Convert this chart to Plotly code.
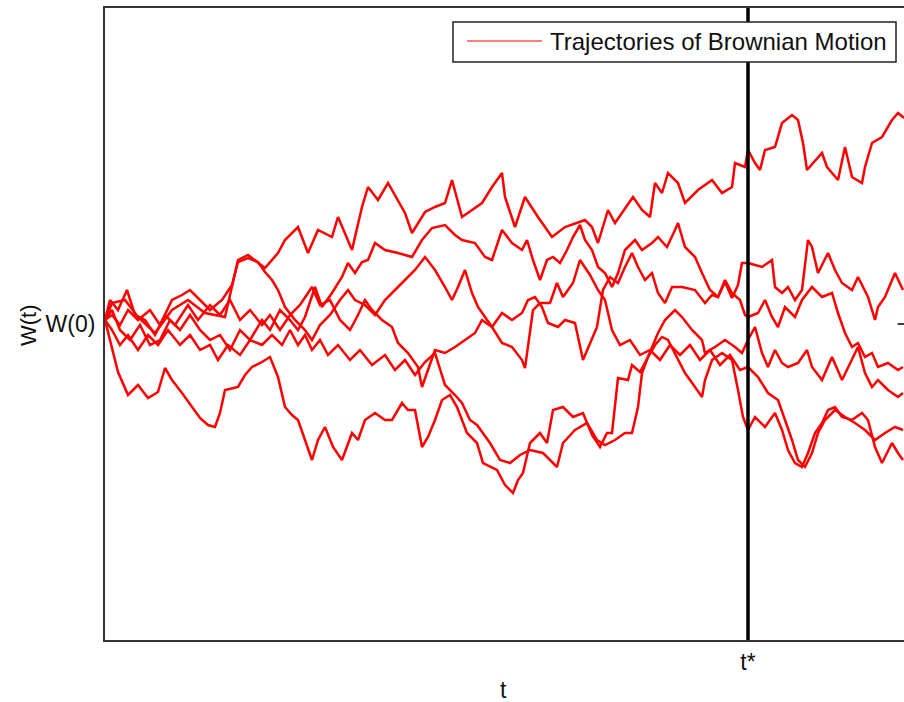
import plotly.graph_objects as go

# Sample paths of a Brownian motion W(t), all started from W(0).
# t runs from 0 to T_END (arbitrary units); W is measured relative to W(0).
T_STAR = 643
T_END = 799
W_LIM = 316

t_1 = [0, 7, 20, 33, 50, 67, 83, 100, 120, 127, 133, 143, 160, 173, 180, 193, 203, 213, 227, 233,
       247, 257, 263, 273, 283, 300, 307, 320, 330, 340, 347, 357, 363, 377, 387, 397, 400, 410, 420, 433,
       447, 460, 480, 487, 493, 503, 510, 517, 528, 537, 545, 550, 557, 563, 573, 580, 593, 607, 617, 627,
       630, 640, 643, 650, 655, 660, 670, 677, 687, 693, 698, 702, 717, 722, 733, 740, 747, 757, 760, 767,
       777, 787, 793, 799]
w_1 = [4, 21, 24, 7, -9, 14, 24, 11, 7, 37, 64, 69, 56, 71, 84, 97, 71, 94, 87, 107,
       74, 117, 137, 124, 141, 111, 91, 112, 117, 121, 144, 107, 111, 121, 137, 151, 127, 97, 127, 107,
       87, 97, 104, 97, 81, 114, 101, 111, 127, 114, 107, 141, 131, 151, 141, 121, 134, 144, 131, 137,
       161, 157, 174, 161, 154, 174, 177, 201, 209, 204, 181, 154, 171, 157, 144, 177, 147, 141, 157, 181,
       187, 204, 211, 206]

t_2 = [0, 7, 15, 25, 35, 45, 55, 65, 75, 85, 95, 105, 115, 125, 135, 145, 157, 165, 175, 185,
       193, 200, 210, 217, 227, 237, 243, 250, 257, 263, 270, 280, 293, 307, 317, 327, 340, 350, 357, 370,
       380, 387, 397, 407, 417, 422, 428, 435, 442, 448, 455, 462, 468, 475, 480, 487, 493, 500, 507, 513,
       520, 530, 537, 547, 553, 562, 570, 573, 580, 590, 597, 605, 613, 620, 627, 633, 637, 643, 657, 667,
       670, 677, 683, 690, 697, 703, 707, 713, 723, 730, 737, 747, 753, 763, 770, 773, 780, 790, 798]
w_2 = [4, 14, -6, -16, -1, -21, -16, 4, -6, 9, -6, -16, -11, -26, -6, -16, 4, -6, 14, 4,
       -6, 7, 37, 17, 31, 47, 61, 51, 62, 64, 81, 74, 71, 67, 84, 96, 99, 89, 84, 81,
       67, 64, 94, 81, 74, 84, 64, 44, 64, 67, 61, 74, 87, 99, 84, 74, 57, 51, 37, 51,
       74, 84, 74, 81, 87, 77, 94, 101, 77, 67, 51, 34, 27, 42, 26, 39, 61, 61, 57, 64,
       37, 31, 37, 24, 34, 84, 77, 51, 71, 54, 41, 34, 47, 27, 4, 17, 27, 51, 34]

t_3 = [0, 5, 13, 22, 30, 40, 50, 60, 70, 83, 93, 105, 115, 125, 135, 145, 157, 165, 175, 185,
       195, 207, 215, 225, 235, 245, 253, 260, 267, 277, 287, 293, 303, 313, 317, 323, 330, 340, 350, 360,
       370, 377, 387, 397, 407, 417, 423, 430, 437, 443, 453, 460, 470, 478, 485, 492, 498, 505, 513, 520,
       527, 533, 540, 547, 553, 560, 567, 577, 590, 600, 607, 613, 620, 627, 635, 640, 643, 653, 660, 667,
       673, 680, 690, 697, 707, 717, 727, 733, 740, 747, 753, 760, 767, 773, 783, 793, 798]
w_3 = [4, 24, 14, 34, 9, 4, -11, 9, -1, 19, 4, 19, 9, 24, 4, 14, -1, 9, -6, 9,
       19, 37, 19, 24, 4, -6, 9, 24, 14, 4, -3, -19, -29, -43, -63, -46, -26, -29, -23, -16,
       -9, 4, -3, 11, 4, 11, 24, 27, 17, 1, -3, 4, 1, -36, -19, -3, 34, 47, 41, 57,
       71, 57, 44, 51, 31, 21, 37, 37, 34, 21, 29, 27, 44, 31, 24, 9, 7, 11, 24, 7,
       -3, 17, 7, 24, 37, 27, 31, 11, -9, -23, -19, -33, -29, -43, -39, -46, -43]

t_4 = [0, 7, 15, 23, 33, 43, 53, 63, 75, 85, 95, 105, 113, 123, 135, 145, 157, 167, 177, 185,
       193, 200, 207, 215, 223, 233, 245, 255, 267, 280, 290, 300, 310, 320, 330, 340, 350, 357, 365, 372,
       385, 395, 405, 415, 425, 438, 452, 458, 470, 482, 492, 500, 510, 520, 527, 533, 537, 543, 550, 557,
       563, 573, 580, 590, 597, 600, 607, 617, 627, 633, 638, 643, 650, 660, 670, 677, 683, 690, 697, 703,
       710, 717, 723, 730, 737, 747, 757, 763, 770, 777, 787, 793, 798]
w_4 = [4, -6, -21, -11, -26, -11, -21, -6, -21, -11, -26, -21, -36, -21, -31, -16, -21, -11, -21, -6,
       -21, -11, -26, -16, -31, -21, -36, -26, -41, -31, -46, -36, -51, -38, -29, -61, -71, -79, -96, -101,
       -119, -136, -139, -131, -126, -129, -143, -119, -106, -99, -116, -121, -116, -109, -109, -83, -49, -33, -21, -13,
       -16, -36, -49, -63, -73, -56, -36, -29, -36, -66, -93, -106, -93, -103, -89, -106, -126, -139, -143, -129,
       -109, -99, -86, -83, -93, -96, -89, -96, -123, -139, -119, -129, -136]

t_5 = [0, 5, 13, 23, 33, 43, 53, 60, 67, 77, 87, 95, 103, 110, 115, 120, 133, 140, 147, 157,
       165, 173, 180, 187, 193, 200, 207, 213, 220, 228, 237, 247, 253, 260, 270, 280, 287, 297, 303, 310,
       317, 323, 330, 337, 345, 352, 362, 372, 378, 392, 400, 408, 413, 418, 425, 435, 442, 448, 458, 468,
       478, 487, 495, 502, 507, 513, 523, 527, 535, 543, 553, 560, 570, 577, 587, 597, 600, 610, 620, 630,
       637, 643, 650, 657, 663, 670, 677, 683, 693, 702, 707, 717, 727, 737, 747, 753, 760, 767, 773, 783,
       793, 798]
w_5 = [4, -16, -48, -71, -61, -74, -68, -44, -56, -69, -83, -94, -101, -103, -89, -66, -63, -51, -43, -38,
       -33, -53, -83, -91, -96, -116, -136, -116, -103, -123, -136, -109, -116, -96, -89, -96, -96, -79, -86, -86,
       -123, -113, -96, -76, -71, -83, -109, -119, -139, -146, -161, -169, -156, -149, -119, -109, -119, -86, -83, -93,
       -89, -111, -123, -109, -109, -54, -56, -41, -48, -33, -9, 4, 14, 7, -6, -16, -29, -23, -16, -23,
       -29, -16, -3, -29, -43, -26, -39, -43, -39, -26, -43, -56, -33, -56, -36, -23, -49, -63, -56, -66,
       -73, -69]

t_6 = [0, 7, 15, 23, 33, 45, 55, 67, 77, 85, 95, 105, 117, 127, 133, 143, 153, 160, 167, 173,
       180, 190, 200, 207, 215, 225, 235, 243, 250, 260, 270, 280, 290, 300, 310, 320, 330, 340, 347, 353,
       360, 367, 373, 380, 387, 397, 407, 417, 420, 428, 435, 445, 452, 458, 468, 475, 485, 493, 500, 507,
       515, 525, 535, 545, 555, 565, 575, 585, 595, 605, 615, 625, 635, 643, 653, 663, 673, 680, 687, 693,
       700, 707, 713, 720, 730, 740, 750, 760, 770, 780, 790, 798]
w_6 = [4, 9, -1, 14, 4, 14, -1, 24, 29, 34, 24, 14, 24, 39, 62, 66, 62, 52, 44, 34,
       17, 4, -6, -16, -1, 9, 24, 34, 24, 19, 9, 24, 34, 44, 54, 67, 54, 37, 24, 37,
       54, 31, 17, 7, -3, -19, -23, -36, -44, 14, 21, 21, 41, 27, 41, 64, 49, 34, 24, -6,
       -21, -16, -31, -26, -36, -21, -31, -21, -36, -26, -41, -31, -46, -43, -53, -69, -76, -96, -116, -136,
       -143, -129, -109, -96, -86, -93, -99, -106, -116, -109, -103, -106]

paths = [(t_1, w_1), (t_2, w_2), (t_3, w_3), (t_4, w_4), (t_5, w_5), (t_6, w_6)]

FONT = "Liberation Sans, Arial, Helvetica, sans-serif"

fig = go.Figure()
for t, w in paths:
    fig.add_trace(go.Scatter(
        x=t, y=w, mode="lines",
        line=dict(color="#ff0000", width=2.5),
        showlegend=False, hoverinfo="skip",
    ))

fig.update_layout(
    width=904, height=702,
    margin=dict(l=105, r=0, t=8, b=62, autoexpand=False),
    paper_bgcolor="white", plot_bgcolor="white",
    font=dict(family=FONT, size=23, color="#111"),
    showlegend=False,
)

fig.update_xaxes(
    range=[0, T_END], showgrid=False, zeroline=False, automargin=False,
    showline=True, linecolor="#333", linewidth=2, mirror=True,
    tickmode="array", tickvals=[T_STAR], ticktext=["t*"], ticks="",
    ticklabelstandoff=0,
)
fig.update_yaxes(
    range=[-W_LIM, W_LIM], showgrid=False, zeroline=False, automargin=False,
    showline=True, linecolor="#333", linewidth=2, mirror=False,
    tickmode="array", tickvals=[0], ticktext=["W(0)"], ticks="",
    ticklabelstandoff=3,
)

# axis titles, placed in paper coordinates of the plotting area
fig.add_annotation(xref="paper", yref="paper", x=(503 - 105) / 799, y=(640 - 690) / 632,
                   xanchor="center", yanchor="middle", showarrow=False, text="t",
                   font=dict(family=FONT, size=23, color="#111"))
fig.add_annotation(xref="paper", yref="paper", x=(28 - 105) / 799, y=(640 - 325) / 632,
                   xanchor="center", yanchor="middle", showarrow=False, text="W(t)",
                   textangle=-90, font=dict(family=FONT, size=22, color="#111"))

# vertical marker at t*, right-hand tick at W(0), and the legend box
fig.add_shape(type="line", xref="x", yref="paper", x0=T_STAR, x1=T_STAR, y0=0, y1=1,
              line=dict(color="black", width=3.5), layer="above")
fig.add_shape(type="line", xref="paper", yref="y", x0=0.992, x1=1.0, y0=0, y1=0,
              line=dict(color="black", width=1.5), layer="above")

lx0, lx1 = (453 - 105) / 799, (896 - 105) / 799
ly0, ly1 = (640 - 62) / 632, (640 - 22) / 632
fig.add_shape(type="rect", xref="paper", yref="paper", x0=lx0, x1=lx1, y0=ly0, y1=ly1,
              line=dict(color="#222", width=1.5), fillcolor="white", layer="above")
fig.add_shape(type="line", xref="paper", yref="paper",
              x0=(467 - 105) / 799, x1=(542 - 105) / 799,
              y0=(640 - 41) / 632, y1=(640 - 41) / 632,
              line=dict(color="#ff0000", width=1.2), layer="above")
fig.add_annotation(xref="paper", yref="paper", x=(548 - 105) / 799, y=(640 - 42) / 632,
                   xanchor="left", yanchor="middle", showarrow=False,
                   text="Trajectories of Brownian Motion",
                   font=dict(family=FONT, size=24, color="#111"))

fig.write_html("out.html")
